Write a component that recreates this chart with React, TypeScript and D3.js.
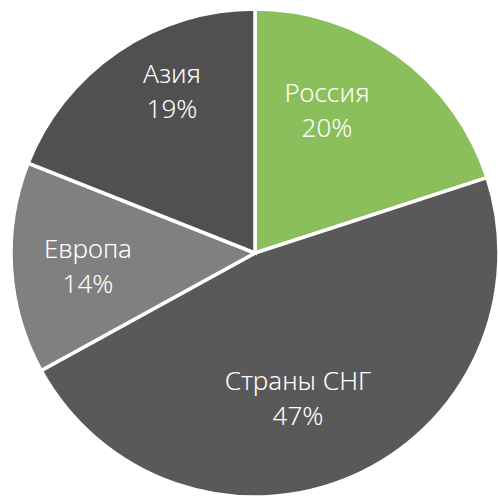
import React from "react";
import * as d3 from "d3";

const categories = ["Россия", "Страны СНГ", "Европа", "Азия"];
const shares = [20, 47, 14, 19];
const colors = ["#8bbf5b", "#595959", "#808080", "#505050"];
// label centre positions (x, y of first line baseline) relative to pie centre
const labelOffsets: [number, number][] = [
  [72, -151],
  [43, 137],
  [-167, 5],
  [-83, -170],
];

export default function App() {
  const W = 498, H = 498;
  const cx = 255, cy = 253, r = 244;
  const pie = d3.pie<number>().sort(null).value((d) => d).startAngle(0).endAngle(2 * Math.PI);
  const arcs = pie(shares);
  const arc = d3.arc<d3.PieArcDatum<number>>().innerRadius(0).outerRadius(r);
  const total = d3.sum(shares);
  return (
    <svg width={W} height={H} style={{ position: "absolute", left: 0, top: 0, background: "#fff" }}>
      <g transform={`translate(${cx},${cy})`}>
        {arcs.map((a, i) => (
          <path key={i} d={arc(a) || ""} fill={colors[i]} stroke="#fff" strokeWidth={3.5} strokeLinejoin="miter" />
        ))}
        {arcs.map((a, i) => {
          const [dx, dy] = labelOffsets[i];
          return (
            <text key={"t" + i} x={dx} y={dy} textAnchor="middle" fill="#ffffff"
              style={{ fontFamily: "'Noto Sans', sans-serif", fontSize: 26, fontWeight: 300 }}>
              <tspan x={dx} dy={0}>{categories[i]}</tspan>
              <tspan x={dx} dy={35}>{Math.round((a.value / total) * 100)}%</tspan>
            </text>
          );
        })}
      </g>
    </svg>
  );
}
